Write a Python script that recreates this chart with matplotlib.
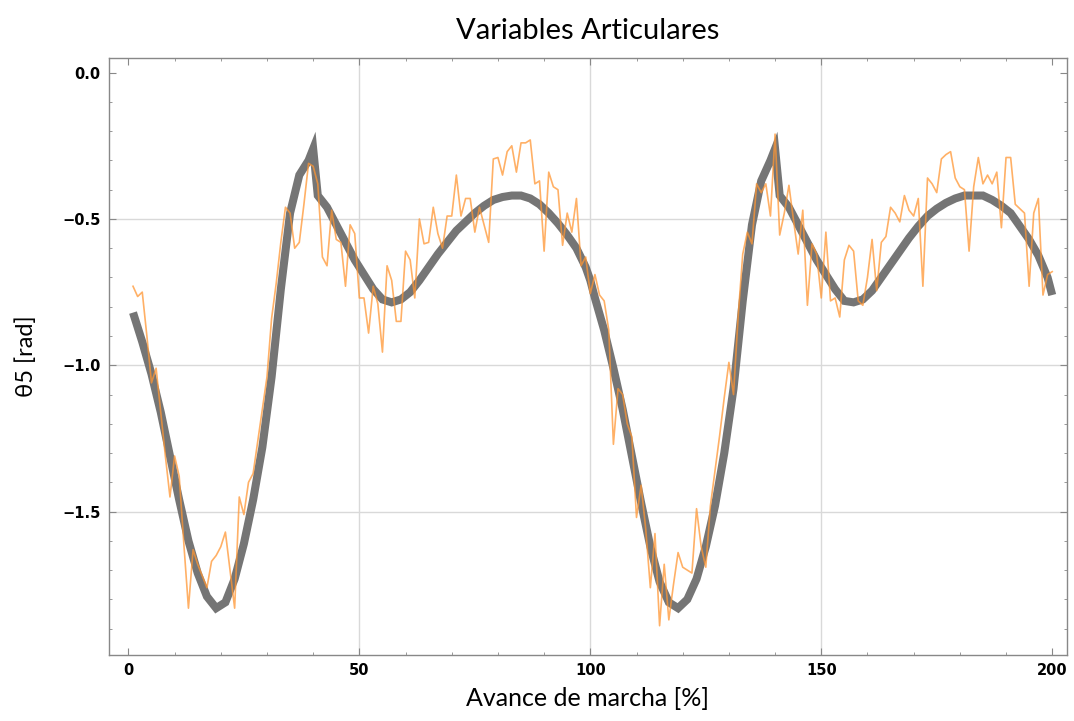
import matplotlib.pyplot as plt
from matplotlib.ticker import MultipleLocator

# gray reference curve (two gait cycles)
gray_x = [1, 3, 5, 7, 9, 11, 13, 15, 17, 19, 21, 23, 25, 27, 29, 31, 33, 35, 37, 39, 40,
          41, 43, 45, 47, 49, 51, 53, 55, 57, 59, 61, 63, 65, 67, 69, 71, 73, 75, 77, 79,
          81, 83, 85, 87, 89, 91, 93, 95, 97, 99, 100,
          101, 103, 105, 107, 109, 111, 113, 115, 117, 119, 121, 123, 125, 127, 129, 131,
          133, 135, 137, 139, 140, 141, 143, 145, 147, 149, 151, 153, 155, 157, 159, 161,
          163, 165, 167, 169, 171, 173, 175, 177, 179, 181, 183, 185, 187, 189, 191, 193,
          195, 197, 199, 200]
gray_y = [-0.82, -0.92, -1.03, -1.16, -1.31, -1.46, -1.60, -1.71, -1.79, -1.83, -1.81,
          -1.73, -1.61, -1.46, -1.28, -1.04, -0.74, -0.48, -0.35, -0.30, -0.26,
          -0.42, -0.46, -0.52, -0.58, -0.64, -0.69, -0.74, -0.775, -0.785, -0.775, -0.75,
          -0.71, -0.665, -0.62, -0.58, -0.54, -0.51, -0.48, -0.455, -0.435,
          -0.425, -0.42, -0.42, -0.43, -0.45, -0.48, -0.515, -0.555, -0.60, -0.665, -0.71,
          -0.77, -0.88, -1.01, -1.15, -1.31, -1.47, -1.62, -1.74, -1.81, -1.83, -1.80,
          -1.73, -1.62, -1.48, -1.30, -1.08,
          -0.78, -0.52, -0.37, -0.30, -0.26, -0.42, -0.46, -0.52, -0.58, -0.64, -0.69,
          -0.74, -0.78, -0.785, -0.775, -0.745,
          -0.70, -0.655, -0.61, -0.565, -0.525, -0.49, -0.465, -0.445, -0.43, -0.42,
          -0.42, -0.42, -0.435, -0.455, -0.48, -0.525,
          -0.57, -0.625, -0.70, -0.76]

# orange measured signal, one value per percent (1..200)
orange_x = list(range(1, 201))
orange_y = [
    -0.73, -0.765, -0.75, -0.90, -1.06, -1.01, -1.16, -1.31, -1.45, -1.31,
    -1.38, -1.61, -1.83, -1.63, -1.68, -1.72, -1.76, -1.67, -1.65, -1.62,
    -1.57, -1.70, -1.83, -1.45, -1.51, -1.40, -1.37, -1.26, -1.15, -1.04,
    -0.84, -0.72, -0.58, -0.46, -0.48, -0.60, -0.58, -0.45, -0.31, -0.32,
    -0.38, -0.63, -0.66, -0.47, -0.57, -0.58, -0.73, -0.52, -0.55, -0.77,
    -0.77, -0.89, -0.73, -0.79, -0.955, -0.66, -0.71, -0.85, -0.85, -0.61,
    -0.64, -0.77, -0.50, -0.585, -0.58, -0.46, -0.55, -0.60, -0.49, -0.49,
    -0.35, -0.49, -0.43, -0.43, -0.545, -0.46, -0.52, -0.58, -0.295, -0.29,
    -0.35, -0.27, -0.25, -0.34, -0.24, -0.24, -0.23, -0.38, -0.37, -0.61,
    -0.34, -0.39, -0.40, -0.59, -0.48, -0.545, -0.43, -0.66, -0.63, -0.755,
    -0.69, -0.76, -0.78, -0.88, -1.27, -1.08, -1.10, -1.20, -1.245, -1.52,
    -1.41, -1.56, -1.76, -1.575, -1.89, -1.68, -1.87, -1.75, -1.64, -1.69,
    -1.70, -1.71, -1.49, -1.62, -1.69, -1.48, -1.36, -1.24, -1.11, -0.99,
    -1.10, -0.835, -0.62, -0.545, -0.585, -0.38, -0.41, -0.38, -0.49, -0.21,
    -0.555, -0.48, -0.385, -0.505, -0.62, -0.47, -0.795, -0.585, -0.62, -0.77,
    -0.545, -0.78, -0.77, -0.835, -0.64, -0.59, -0.61, -0.78, -0.795, -0.70,
    -0.57, -0.745, -0.58, -0.56, -0.46, -0.48, -0.51, -0.42, -0.47, -0.49,
    -0.43, -0.73, -0.36, -0.38, -0.41, -0.295, -0.28, -0.27, -0.36, -0.39,
    -0.40, -0.61, -0.39, -0.29, -0.38, -0.35, -0.38, -0.34, -0.53, -0.29,
    -0.29, -0.45, -0.465, -0.48, -0.73, -0.48, -0.43, -0.76, -0.69, -0.68]

fig = plt.figure(figsize=(10.74, 7.21), dpi=100)
ax = fig.add_axes([109/1074, 1 - 655/721, (1067 - 109)/1074, (655 - 58)/721])

ax.plot(gray_x, gray_y, color='#757575', lw=5.8, solid_joinstyle='miter', solid_capstyle='butt', zorder=2)
ax.plot(orange_x, orange_y, color='#ff9633', lw=1.2, alpha=0.75, zorder=3)

ax.set_xlim(-4.2, 203.2)
ax.set_ylim(-1.99, 0.05)

# grid only at the inner major ticks
for gx in [50, 100, 150]:
    ax.axvline(gx, color='#d9d9d9', lw=1.0, zorder=1)
for gy in [-0.5, -1.0, -1.5]:
    ax.axhline(gy, color='#d9d9d9', lw=1.0, zorder=1)

ax.xaxis.set_major_locator(MultipleLocator(50))
ax.xaxis.set_minor_locator(MultipleLocator(10))
ax.yaxis.set_major_locator(MultipleLocator(0.5))
ax.yaxis.set_minor_locator(MultipleLocator(0.1))

for s in ax.spines.values():
    s.set_color('#888888')
    s.set_linewidth(1.0)

ax.tick_params(which='both', direction='in', top=True, right=True, color='#888888')
ax.tick_params(which='major', length=5, width=0.8, labelsize=10.5, pad=6)
ax.tick_params(which='minor', length=2.5, width=0.6)
fig.canvas.draw()
for lab in ax.get_xticklabels() + ax.get_yticklabels():
    lab.set_fontweight('bold')
    lab.set_family(['Liberation Sans Narrow', 'DejaVu Sans'])

ax.set_title('Variables Articulares', fontsize=21, family='Lato', pad=14)
ax.set_xlabel('Avance de marcha [%]', fontsize=18, family='Lato', labelpad=6)
ax.set_ylabel('θ5 [rad]', fontsize=17, family='Lato', labelpad=18)

fig.savefig('out.png', dpi=100)
